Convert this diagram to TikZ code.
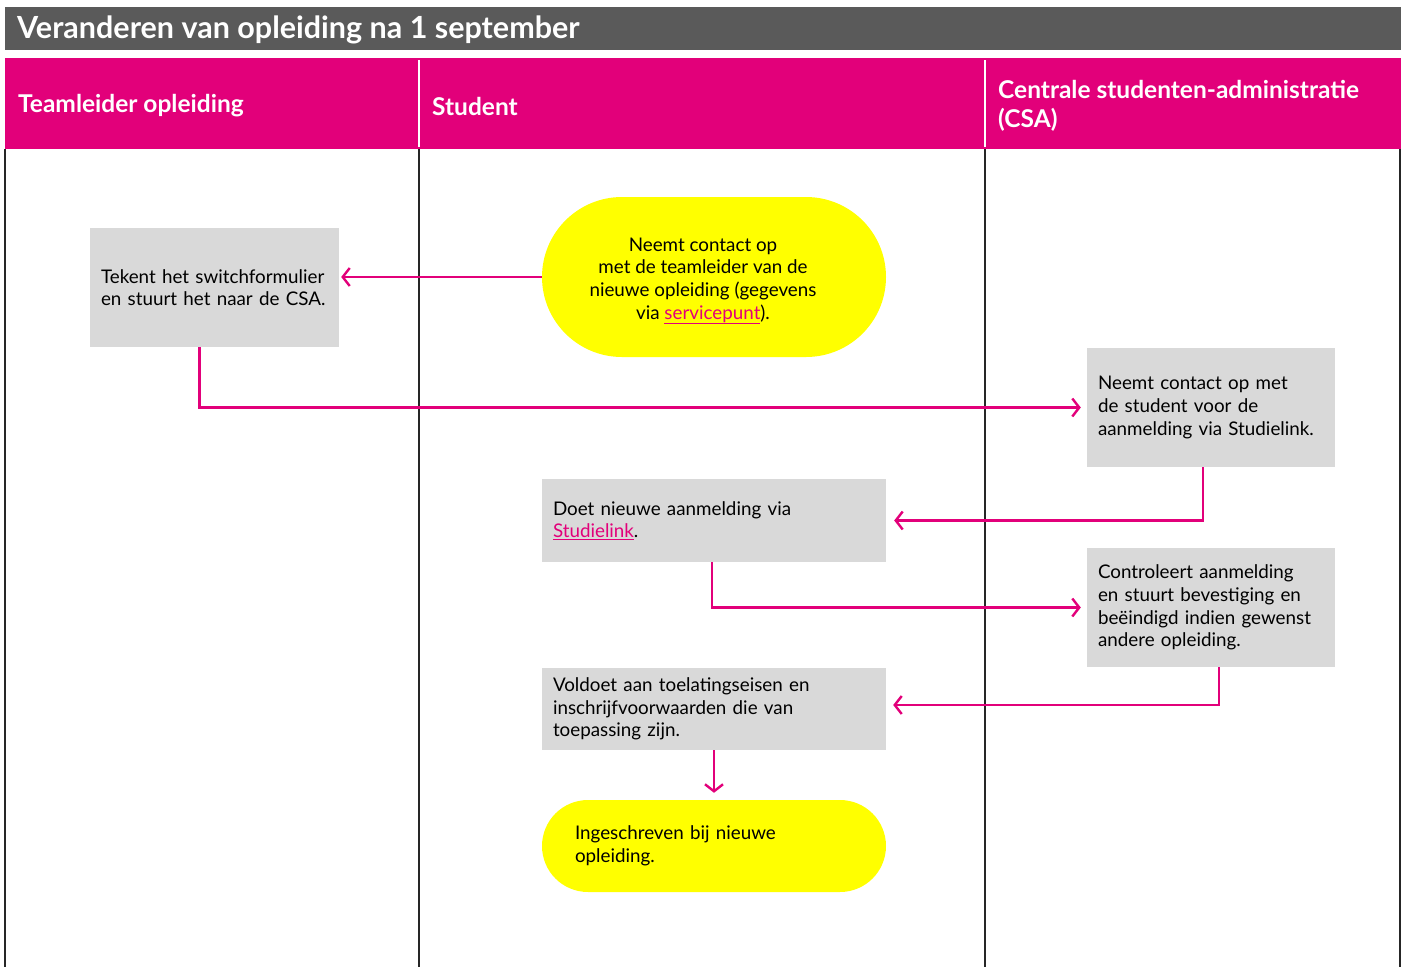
\documentclass[tikz,border=0pt]{standalone}
\usepackage{fontspec}
\setmainfont{Lato}
\usepackage{tikz}
\usetikzlibrary{arrows.meta}
\definecolor{lanepink}{HTML}{E2007A}
\definecolor{titlegrey}{HTML}{5A5A5A}
\definecolor{boxgrey}{HTML}{D9D9D9}
\definecolor{pillyellow}{HTML}{FFFF00}
\newcommand{\weblink}[1]{\textcolor{lanepink}{\underline{#1}}}

\begin{document}
\begin{tikzpicture}[
  x=1pt, y=-1pt,
  greybox/.style={rectangle, fill=boxgrey, inner xsep=11pt, inner ysep=0pt, align=left,
    font=\fontsize{18.8}{22.6}\selectfont},
  pill/.style={rectangle, fill=pillyellow, inner sep=0pt,
    font=\fontsize{18.8}{22.6}\selectfont},
  lanehead/.style={anchor=west, text=white, align=left, inner sep=0pt,
    font=\fontsize{24.5}{29}\selectfont\bfseries},
  flow/.style={draw=lanepink, line width=2.4pt, -{Straight Barb[length=7pt,width=18pt,line width=2.4pt]}},
  lane/.style={draw=black!85, line width=1.5pt},
]
\useasboundingbox (0,0) rectangle (1401,967);

% ─── Title and lane headers ───
\fill[titlegrey] (5,7) rectangle (1401,50);
\node[anchor=west, text=white, inner sep=0pt, font=\fontsize{30.5}{34}\selectfont\bfseries]
  (title) at (17,30) {Veranderen van opleiding na 1 september};
\fill[lanepink] (5,58) rectangle (1401,149);
\draw[white, line width=2.5pt] (419,60) -- (419,147);
\draw[white, line width=2.5pt] (985,60) -- (985,147);
\node[lanehead] (hteam) at (18,106) {Teamleider opleiding};
\node[lanehead] (hstud) at (432,106) {Student};
\node[lanehead] (hcsa) at (998,106) {Centrale studenten-administratie\\(CSA)};

% Lane borders
\foreach \xl in {5,419,985,1400} {
  \draw[lane] (\xl,149) -- (\xl,967);
}

% ─── Steps ───
\node[greybox, text width=227pt, minimum height=119pt] (teken) at (214.5,287.5)
  {Tekent het switchformulier\\en stuurt het naar de CSA.};
\node[pill, minimum width=344pt, minimum height=160pt, rounded corners=80pt,
  align=center] (contact) at (714,277) {};
\node[align=center, inner sep=0pt, font=\fontsize{18.8}{22.6}\selectfont] (contacttxt) at (703,281)
  {Neemt contact op\\met de teamleider van de\\nieuwe opleiding (gegevens\\via \weblink{servicepunt}).};
\node[greybox, text width=226pt, minimum height=119pt] (csacontact) at (1211,407.5)
  {Neemt contact op met\\de student voor de\\aanmelding via Studielink.};
\node[greybox, text width=322pt, minimum height=83pt] (aanmeld) at (714,520.5)
  {Doet nieuwe aanmelding via\\\weblink{Studielink}.};
\node[greybox, text width=226pt, minimum height=119pt] (controle) at (1211,607.5)
  {Controleert aanmelding\\en stuurt bevestiging en\\beëindigd indien gewenst\\andere opleiding.};
\node[greybox, text width=322pt, minimum height=82pt] (voldoet) at (714,709)
  {Voldoet aan toelatingseisen en\\inschrijfvoorwaarden die van\\toepassing zijn.};
\node[pill, minimum width=344pt, minimum height=92pt, rounded corners=46pt,
  text width=278pt, align=left] (klaar) at (714,846)
  {Ingeschreven bij nieuwe\\opleiding.};

% ─── Connectors ───
\draw[flow, shorten >=2pt] (contact.west) -- (contact.west -| teken.east);
\draw[flow, shorten >=6pt] ([xshift=-15pt]teken.south) |- (csacontact.west);
\draw[flow, shorten >=8pt] ([xshift=-8pt]csacontact.south) |- (aanmeld.east);
\draw[flow, shorten >=6pt] ([xshift=-2pt]aanmeld.south) |- (controle.west);
\draw[flow, shorten >=7pt] ([xshift=8pt]controle.south) |- ([yshift=4pt]voldoet.east);
\draw[flow, shorten >=7pt] (voldoet.south) -- (klaar.north);

\end{tikzpicture}
\end{document}
